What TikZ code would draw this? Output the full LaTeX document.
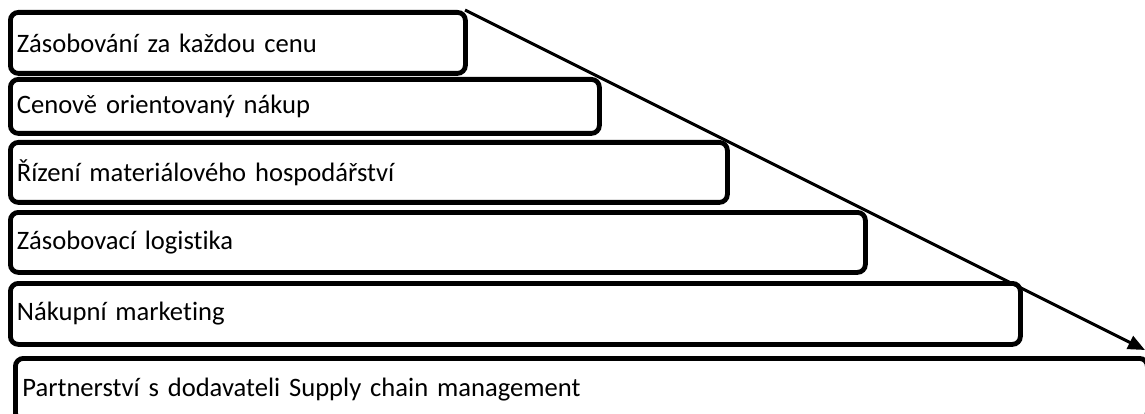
\documentclass[tikz,border=0pt]{standalone}
\usepackage{fontspec}
\setmainfont[Ligatures=NoCommon]{Carlito}
\usetikzlibrary{arrows.meta}
\begin{document}
\begin{tikzpicture}[x=1pt,y=-1pt,
  stage/.style={draw=black, line width=4.8pt, rounded corners=8pt, anchor=north west,
    inner xsep=6.5pt, inner ysep=0pt, align=left, font=\fontsize{26.6}{30}\selectfont},
  trend/.style={line width=3pt, -{Triangle[length=17pt,width=14pt]}}]
\useasboundingbox (0,0) rectangle (1145,414);
\clip (0,0) rectangle (1145,414);
\node[stage, text width=442pt, minimum height=61pt] (s1) at (8,10) {Zásobování za každou cenu};
\node[stage, text width=576pt, minimum height=54pt] (s2) at (8,77) {Cenově orientovaný nákup};
\node[stage, text width=704pt, minimum height=60pt] (s3) at (8,140) {Řízení materiálového hospodářství};
\node[stage, text width=842pt, minimum height=60pt] (s4) at (8,210) {Zásobovací logistika};
\node[stage, text width=997pt, minimum height=61pt] (s5) at (8,281) {Nákupní marketing};
\node[stage, text width=1118pt, minimum height=62pt, inner xsep=7pt] (s6) at (13,356) {Partnerství s dodavateli Supply chain management};
\coordinate (a0) at (465,10);
\coordinate (a1) at (1145,350);
\draw[trend] (a0) -- (a1);
\end{tikzpicture}
\end{document}
